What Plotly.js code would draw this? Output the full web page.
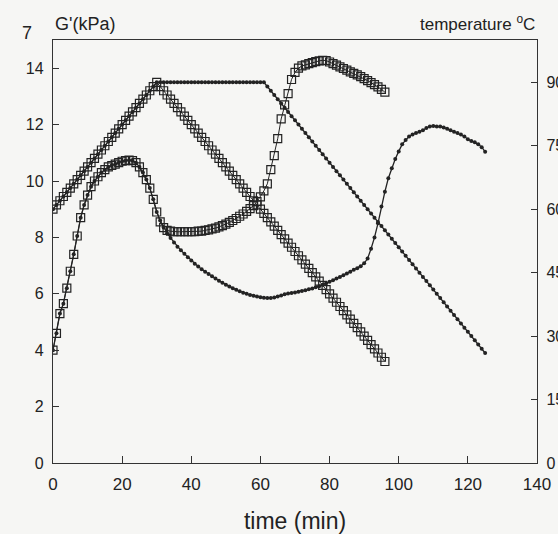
<!DOCTYPE html>
<html><head><meta charset="utf-8">
<script src="https://cdn.plot.ly/plotly-3.0.1.min.js"></script>
<style>html,body{margin:0;padding:0;background:#f6f6f4}</style>
</head><body><div id="chart" style="width:558px;height:534px"></div>
<script>
// time (min) of each sample
const timeA = [0,1,2,3,4,5,6,7,8,9,10,11,12,13,14,15,16,17,18,19,20,21,22,23,24,25,26,27,28,29,30,31,32,33,34,35,36,37,38,39,40,41,42,43,44,45,46,47,48,49,50,51,52,53,54,55,56,57,58,59,60,61,62,63,64,65,66,67,68,69,70,71,72,73,74,75,76,77,78,79,80,81,82,83,84,85,86,87,88,89,90,91,92,93,94,95,96];
const timeB = [0,1,2,3,4,5,6,7,8,9,10,11,12,13,14,15,16,17,18,19,20,21,22,23,24,25,26,27,28,29,30,31,32,33,34,35,36,37,38,39,40,41,42,43,44,45,46,47,48,49,50,51,52,53,54,55,56,57,58,59,60,61,62,63,64,65,66,67,68,69,70,71,72,73,74,75,76,77,78,79,80,81,82,83,84,85,86,87,88,89,90,91,92,93,94,95,96,97,98,99,100,101,102,103,104,105,106,107,108,109,110,111,112,113,114,115,116,117,118,119,120,121,122,123,124,125];

// temperature profile (°C), open squares: 60 -> 90 -> cool
const tempA = [60,61,62,63,64,65,66,67,68,69,70,71,72,73,74,75,76,77,78,79,80,81,82,83,84,85,86,87,88,89,90,89,88,87,86,85,84,83,82,81,80,79,78,77,76,75,74,73,72,71,70,69,68,67,66,65,64,63,62,61,60,59,58,57,56,55,54,53,52,51,50,49,48,47,46,45,44,43,42,41,40,39,38,37,36,35,34,33,32,31,30,29,28,27,26,25,24];
// temperature profile (°C), filled dots: 60 -> 90, hold, cool
const tempB = [60,61,62,63,64,65,66,67,68,69,70,71,72,73,74,75,76,77,78,79,80,81,82,83,84,85,86,87,88,89,90,90,90,90,90,90,90,90,90,90,90,90,90,90,90,90,90,90,90,90,90,90,90,90,90,90,90,90,90,90,90,90,89,88,87,86,85,84,83,82,81,80,79,78,77,76,75,74,73,72,71,70,69,68,67,66,65,64,63,62,61,60,59,58,57,56,55,54,53,52,51,50,49,48,47,46,45,44,43,42,41,40,39,38,37,36,35,34,33,32,31,30,29,28,27,26];

// G' (kPa), open squares
const gA = [4.0,4.6,5.3,5.65,6.2,6.8,7.4,8.05,8.7,9.15,9.5,9.8,10.0,10.15,10.3,10.4,10.5,10.55,10.6,10.65,10.7,10.72,10.74,10.72,10.65,10.5,10.3,10.05,9.75,9.35,8.9,8.55,8.35,8.25,8.22,8.2,8.2,8.2,8.2,8.2,8.2,8.2,8.22,8.22,8.25,8.27,8.3,8.33,8.37,8.42,8.47,8.53,8.6,8.67,8.75,8.83,8.92,9.02,9.13,9.27,9.44,9.65,9.9,10.4,10.9,11.5,12.2,12.7,13.1,13.6,13.85,14.0,14.08,14.12,14.16,14.2,14.23,14.26,14.28,14.27,14.22,14.16,14.11,14.05,13.99,13.93,13.87,13.82,13.76,13.7,13.63,13.56,13.49,13.42,13.34,13.25,13.15];
// G' (kPa), filled dots
const gB = [4.0,4.6,5.3,5.65,6.2,6.8,7.4,8.05,8.7,9.15,9.5,9.8,10.0,10.15,10.3,10.4,10.5,10.55,10.6,10.65,10.7,10.72,10.74,10.72,10.65,10.5,10.3,10.05,9.75,9.35,8.9,8.6,8.35,8.15,7.98,7.82,7.67,7.54,7.42,7.3,7.18,7.07,6.97,6.87,6.78,6.7,6.62,6.54,6.46,6.39,6.32,6.26,6.2,6.14,6.09,6.04,6.0,5.96,5.93,5.9,5.88,5.86,5.85,5.85,5.87,5.9,5.94,5.98,6.01,6.03,6.05,6.07,6.1,6.13,6.16,6.19,6.23,6.27,6.32,6.37,6.43,6.48,6.54,6.6,6.66,6.72,6.78,6.85,6.91,6.98,7.08,7.25,7.6,8.0,8.5,9.1,9.62,10.1,10.45,10.78,11.05,11.3,11.45,11.58,11.65,11.7,11.75,11.8,11.88,11.93,11.95,11.93,11.93,11.9,11.85,11.8,11.75,11.7,11.65,11.58,11.48,11.42,11.37,11.3,11.2,11.04];

const xTicks = [0,20,40,60,80,100,120,140];
const gTicks = [0,2,4,6,8,10,12,14];
const tempTicks = [0,15,30,45,60,75,90];

const ink = '#232323';
const traces = [
  {x:timeA, y:tempA, yaxis:'y2', mode:'lines+markers', line:{color:ink,width:1},
   marker:{symbol:'square-open', size:8, color:ink, line:{width:1.2, color:ink}}},
  {x:timeA, y:gA, mode:'lines+markers', line:{color:ink,width:1},
   marker:{symbol:'square-open', size:8, color:ink, line:{width:1.2, color:ink}}},
  {x:timeB, y:tempB, yaxis:'y2', mode:'lines+markers', line:{color:ink,width:1.3},
   marker:{symbol:'circle', size:4, color:ink}},
  {x:timeB, y:gB, mode:'lines+markers', line:{color:ink,width:1.3},
   marker:{symbol:'circle', size:4, color:ink}}
];

const axisCommon = {ticks:'inside', ticklen:6, tickwidth:1, tickcolor:'#333',
  showline:true, linecolor:'#333', linewidth:1.2, showgrid:false, zeroline:false};

const layout = {
  width:558, height:534,
  margin:{l:53, r:21, t:40, b:71},
  paper_bgcolor:'#f6f6f4', plot_bgcolor:'#f6f6f4',
  showlegend:false,
  font:{family:'Liberation Sans, Arial, sans-serif', color:'#222', size:16},
  xaxis:Object.assign({}, axisCommon, {range:[0,140], tickvals:xTicks, ticktext:xTicks.map(String),
    mirror:true, ticklen:7, tickfont:{size:17}, ticklabelstandoff:5,
    title:{text:'time (min)', font:{size:23}, standoff:20}}),
  yaxis:Object.assign({}, axisCommon, {range:[0,15], tickvals:gTicks, ticktext:gTicks.map(String),
    tickfont:{size:16}, ticklabelstandoff:5}),
  yaxis2:Object.assign({}, axisCommon, {range:[0,100], overlaying:'y', side:'right',
    tickvals:tempTicks, ticktext:tempTicks.map(String), tickfont:{size:16}, ticklabelstandoff:5}),
  annotations:[
    {text:"G'(kPa)", xref:'paper', yref:'paper', x:0, y:1.038, xanchor:'left', yanchor:'middle',
     showarrow:false, font:{size:18}},
    {text:'temperature <sup>o</sup>C', xref:'paper', yref:'paper', x:1, y:1.04, xanchor:'right', yanchor:'middle',
     showarrow:false, font:{size:17}},
    {text:'7', xref:'paper', yref:'paper', x:-0.054, y:1.017, xanchor:'center', yanchor:'middle',
     showarrow:false, font:{size:18}}
  ]
};

Plotly.newPlot('chart', traces, layout, {displayModeBar:false, staticPlot:true});
</script></body></html>
